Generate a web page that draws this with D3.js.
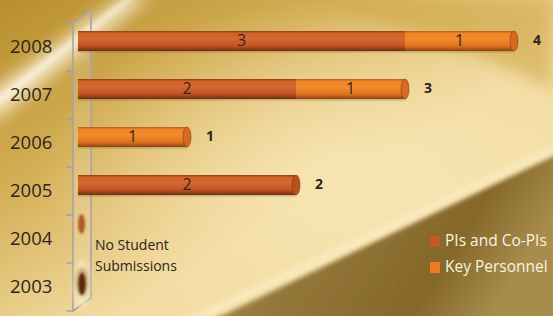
<!DOCTYPE html>
<html>
<head>
<meta charset="utf-8">
<script src="https://cdn.jsdelivr.net/npm/d3@7"></script>
<style>
  html, body { margin: 0; padding: 0; overflow: hidden; }
  svg { display: block; font-family: "Open Sans", "Noto Sans", sans-serif; }
</style>
</head>
<body>
<svg id="chart" width="553" height="316"></svg>
<script>
// data
const years = ["2008", "2007", "2006", "2005", "2004", "2003"];
const pis = [3, 2, 0, 2, 0, 0];
const keyPersonnel = [1, 1, 1, 0, 0, 0];
const seriesNames = ["PIs and Co-PIs", "Key Personnel"];
const noteText = ["No Student", "Submissions"];

const W = 553, H = 316;
const svg = d3.select('#chart');
const defs = svg.append('defs');

// background -------------------------------------------------
const bg = defs.append('linearGradient').attr('id', 'bgGrad')
  .attr('x1', 0).attr('y1', 0).attr('x2', 1).attr('y2', 1);
bg.append('stop').attr('offset', '0%').attr('stop-color', '#b88f2c');
bg.append('stop').attr('offset', '30%').attr('stop-color', '#d4ae55');
bg.append('stop').attr('offset', '60%').attr('stop-color', '#f3dca2');
bg.append('stop').attr('offset', '100%').attr('stop-color', '#f6e2ab');

const glow = defs.append('radialGradient').attr('id', 'glowGrad')
  .attr('cx', 0.62).attr('cy', 0.55).attr('r', 0.55);
glow.append('stop').attr('offset', '0%').attr('stop-color', '#f8e6b4').attr('stop-opacity', 0.9);
glow.append('stop').attr('offset', '100%').attr('stop-color', '#f8e6b4').attr('stop-opacity', 0);

const dark = defs.append('linearGradient').attr('id', 'darkGrad')
  .attr('x1', 0).attr('y1', 0).attr('x2', 1).attr('y2', 0.3);
dark.append('stop').attr('offset', '0%').attr('stop-color', '#b99a4e');
dark.append('stop').attr('offset', '45%').attr('stop-color', '#94763a');
dark.append('stop').attr('offset', '80%').attr('stop-color', '#856829');
dark.append('stop').attr('offset', '100%').attr('stop-color', '#a88c4c');

defs.append('filter').attr('id', 'blur8').attr('x', '-50%').attr('y', '-50%').attr('width', '200%').attr('height', '200%')
  .append('feGaussianBlur').attr('stdDeviation', 8);
defs.append('filter').attr('id', 'blur3').attr('x', '-50%').attr('y', '-50%').attr('width', '200%').attr('height', '200%')
  .append('feGaussianBlur').attr('stdDeviation', 2.5);
defs.append('filter').attr('id', 'blur1').attr('x', '-50%').attr('y', '-50%').attr('width', '200%').attr('height', '200%')
  .append('feGaussianBlur').attr('stdDeviation', 1.2);

const bgLayer = svg.append('g');
bgLayer.append('rect').attr('width', W).attr('height', H).attr('fill', 'url(#bgGrad)');
bgLayer.append('rect').attr('width', W).attr('height', H).attr('fill', 'url(#glowGrad)');
// gold top right
bgLayer.append('path').attr('d', 'M300,0 L553,0 L553,90 Q460,40 300,0 Z')
  .attr('fill', '#cfa848').attr('opacity', 0.6).attr('filter', 'url(#blur8)');
// diagonal light streak top-left
bgLayer.append('path').attr('d', 'M-10,92 L125,-5 L152,-5 L-10,125 Z')
  .attr('fill', '#fbf0d4').attr('opacity', 0.85).attr('filter', 'url(#blur8)');
bgLayer.append('path').attr('d', 'M-10,102 L130,-5 L138,-5 L-10,112 Z')
  .attr('fill', '#fffaf0').attr('opacity', 0.6).attr('filter', 'url(#blur3)');
// lower-right darker sheet
bgLayer.append('path').attr('d', 'M192,330 L560,152 L560,330 Z')
  .attr('fill', 'url(#darkGrad)').attr('filter', 'url(#blur3)');
bgLayer.append('path').attr('d', 'M177,322 L560,142 L560,152 L192,325 Z')
  .attr('fill', '#fbeec8').attr('opacity', 0.6).attr('filter', 'url(#blur3)');

// scales -----------------------------------------------------
const y = d3.scaleBand().domain(years).range([23, 311]).paddingInner(0);
const x = d3.scaleLinear().domain([0, 4]).range([78, 514]);
const barH = 20;
const barTop = d => y(d) + 8;

// wall -------------------------------------------------------
const wall = svg.append('g');
const frontX = 73, backX = 91, depthY = 13;
wall.append('path')
  .attr('d', `M${frontX},${y.range()[0]} L${backX},${y.range()[0] - depthY} L${backX},${y.range()[1] - depthY} L${frontX},${y.range()[1]} Z`)
  .attr('fill', '#ffffff').attr('fill-opacity', 0.12)
  .attr('stroke', '#a7a4a8').attr('stroke-width', 1.6);
const tickVals = years.map(d => y(d)).concat([y.range()[1]]);
wall.selectAll('line.tick').data(tickVals).enter().append('line')
  .attr('class', 'tick')
  .attr('x1', 66).attr('x2', frontX).attr('y1', d => d).attr('y2', d => d)
  .attr('stroke', '#9a9ab8').attr('stroke-width', 1.3);

// category labels
svg.append('g').selectAll('text').data(years).enter().append('text')
  .attr('x', 10).attr('y', d => y(d) + y.bandwidth() / 2 + 1)
  .attr('dominant-baseline', 'middle')
  .attr('font-size', 18.5).attr('fill', '#2a2622')
  .text(d => d);

// cylinder gradients
function cylGrad(id, top, mid, light, low, bottom) {
  const g = defs.append('linearGradient').attr('id', id).attr('x1', 0).attr('y1', 0).attr('x2', 0).attr('y2', 1);
  g.append('stop').attr('offset', '0%').attr('stop-color', top);
  g.append('stop').attr('offset', '12%').attr('stop-color', mid);
  g.append('stop').attr('offset', '40%').attr('stop-color', light);
  g.append('stop').attr('offset', '75%').attr('stop-color', low);
  g.append('stop').attr('offset', '100%').attr('stop-color', bottom);
}
cylGrad('cylPI', '#8c3e18', '#d0622c', '#d46830', '#bf5424', '#6e2e10');
cylGrad('cylKP', '#b85c1c', '#f08426', '#f38a2c', '#e07420', '#8c4212');
const segFill = ['url(#cylPI)', 'url(#cylKP)'];
const capFill = ['#b8501f', '#d66a1e'];
const legendColors = ['#c4592a', '#f07a24'];

// stacked segments
const rows = years.map((yr, i) => {
  const segs = [];
  let acc = 0;
  [pis[i], keyPersonnel[i]].forEach((v, s) => {
    if (v > 0) segs.push({ yr, s, x0: acc, x1: acc + v, v });
    acc += v;
  });
  return { yr, total: acc, segs };
});

const bars = svg.append('g');
rows.filter(r => r.total > 0).forEach(r => {
  const g = bars.append('g');
  const t = barTop(r.yr);
  // soft shadow
  g.append('rect').attr('x', x(0)).attr('y', t + barH - 2)
    .attr('width', x(r.total) - x(0)).attr('height', 3)
    .attr('fill', '#5a3a10').attr('opacity', 0.35).attr('filter', 'url(#blur1)');
  g.selectAll('rect.seg').data(r.segs).enter().append('rect')
    .attr('class', 'seg')
    .attr('x', d => x(d.x0)).attr('y', t)
    .attr('width', d => x(d.x1) - x(d.x0)).attr('height', barH)
    .attr('fill', d => segFill[d.s]);
  // end cap
  const last = r.segs[r.segs.length - 1];
  g.append('ellipse').attr('cx', x(r.total)).attr('cy', t + barH / 2)
    .attr('rx', 4).attr('ry', barH / 2)
    .attr('fill', capFill[last.s]).attr('stroke', '#8a3a14').attr('stroke-width', 0.6);
  // segment labels
  g.selectAll('text.val').data(r.segs).enter().append('text')
    .attr('class', 'val')
    .attr('x', d => (x(d.x0) + x(d.x1)) / 2).attr('y', t + barH / 2 + 1)
    .attr('text-anchor', 'middle').attr('dominant-baseline', 'middle')
    .attr('font-size', 16).attr('fill', '#33261c')
    .text(d => d.v);
  // totals
  g.append('text')
    .attr('x', x(r.total) + 23).attr('y', t + barH / 2)
    .attr('text-anchor', 'middle').attr('dominant-baseline', 'middle')
    .attr('font-size', 14).attr('font-weight', 'bold').attr('fill', '#2a2420')
    .text(r.total);
});

// zero-length bars (2004, 2003)
const z04 = y("2004") + y.bandwidth() / 2 - 15;
bars.append('ellipse').attr('cx', 81.5).attr('cy', z04).attr('rx', 3.5).attr('ry', 10)
  .attr('fill', '#b4582a').attr('filter', 'url(#blur1)');
const z03 = y("2003") + y.bandwidth() / 2 - 5;
bars.append('ellipse').attr('cx', 82).attr('cy', z03 + 2).attr('rx', 8).attr('ry', 24)
  .attr('fill', '#f4ecc8').attr('opacity', 0.8).attr('filter', 'url(#blur3)');
bars.append('ellipse').attr('cx', 82).attr('cy', z03).attr('rx', 5.5).attr('ry', 14)
  .attr('fill', '#9a7038').attr('opacity', 0.7).attr('filter', 'url(#blur3)');
bars.append('ellipse').attr('cx', 82).attr('cy', z03 + 2).attr('rx', 3.5).attr('ry', 11)
  .attr('fill', '#5a2810').attr('filter', 'url(#blur1)');

// note
svg.append('g').selectAll('text').data(noteText).enter().append('text')
  .attr('x', 95).attr('y', (d, i) => 246 + i * 21)
  .attr('dominant-baseline', 'middle')
  .attr('font-size', 14).attr('fill', '#2a2420')
  .text(d => d);

// legend
const legend = svg.append('g').selectAll('g').data(seriesNames).enter().append('g')
  .attr('transform', (d, i) => `translate(430, ${236 + i * 26})`);
legend.append('rect').attr('width', 10).attr('height', 11)
  .attr('fill', (d, i) => legendColors[i]);
legend.append('text').attr('x', 15).attr('y', 6)
  .attr('dominant-baseline', 'middle')
  .attr('font-size', 15.5).attr('fill', '#fbf3e2')
  .text(d => d);
</script>
</body>
</html>
